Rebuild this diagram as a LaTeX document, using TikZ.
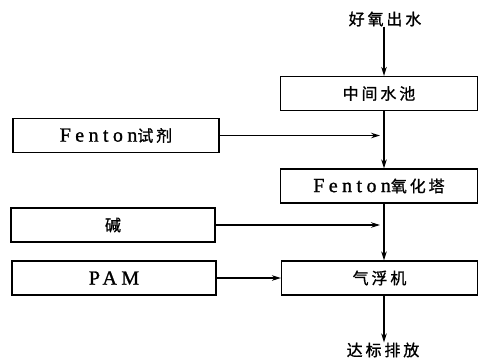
\documentclass[tikz,border=0pt]{standalone}
\usepackage{fontspec}
\setmainfont{Liberation Serif}[LetterSpace=22, FakeBold=1.2]
\newfontfamily\cjk{Noto Sans CJK SC}[LetterSpace=18, FakeBold=1]
\newcommand{\lat}[1]{{\fontsize{20}{21}\selectfont #1}}
\usetikzlibrary{arrows.meta}
\begin{document}
\begin{tikzpicture}[x=1pt,y=-1pt,
  box/.style={draw, line width=1.2pt, inner sep=0pt, minimum width=#1, minimum height=34pt},
  box/.default=197pt,
  lbl/.style={inner sep=0pt, font=\fontsize{16}{19}\selectfont},
  arr/.style={line width=1.1pt, -{Stealth[length=9pt,width=5.5pt]}}]
\useasboundingbox (0,0) rectangle (478,360);
\node[lbl] (in) at (385,19) {\cjk 好氧出水};
\coordinate (vx) at (384,0);
\coordinate (tipx) at (380,0);
\node[box, font=\fontsize{16}{19}\selectfont] (m1) at (379,93.5) {\cjk 中间水池};
\node[box=206pt, font=\fontsize{16}{19}\selectfont] (fs) at (116,135.5) {\lat{Fenton}{\cjk 试剂}};
\node[box, font=\fontsize{16}{19}\selectfont] (f2) at (379,186) {\lat{Fenton}{\cjk 氧化塔}};
\node[box=204pt, font=\fontsize{16}{19}\selectfont] (jian) at (113,225) {\cjk 碱};
\node[box=204pt, font=\fontsize{16}{19}\selectfont] (pam) at (114,278) {\lat{PAM}};
\node[box=196pt, font=\fontsize{16}{19}\selectfont] (qf) at (379.5,278) {\cjk 气浮机};
\node[lbl] (out) at (383,350) {\cjk 达标排放};
% connectors
\draw[arr] (in.south -| vx) -- (m1.north -| vx);
\draw[arr] (m1.south -| vx) -- (f2.north -| vx);
\draw[arr] (fs.east) -- (fs.east -| tipx);
\draw[arr] (f2.south -| vx) -- (qf.north -| vx);
\draw[arr] (jian.east) -- (jian.east -| tipx);
\draw[arr] (pam.east) -- (qf.west);
\draw[arr] (qf.south -| vx) -- (out.north -| vx);
\end{tikzpicture}
\end{document}
